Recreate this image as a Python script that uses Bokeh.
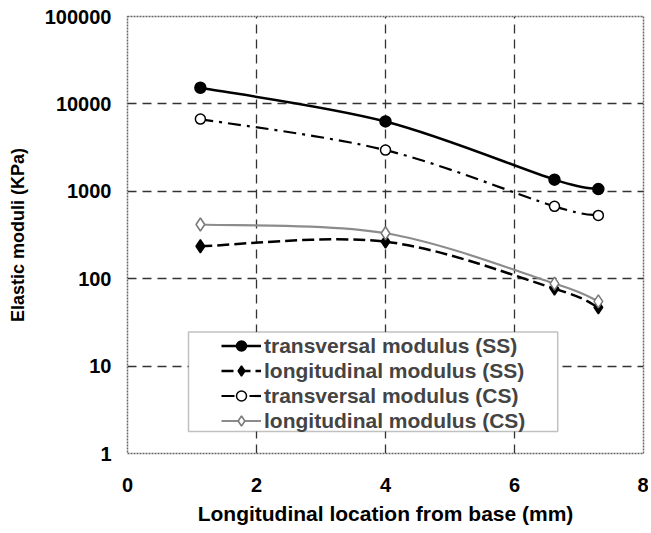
import numpy as np
from bokeh.plotting import figure
from bokeh.models import (Legend, LegendItem, FixedTicker, PrintfTickFormatter,
                          BoxAnnotation)
from bokeh.embed import file_html
from bokeh.resources import INLINE

# ---- data ----
x_loc = [1.13, 4.0, 6.62, 7.3]
trans_ss = [15300, 6300, 1360, 1060]
long_ss = [235, 265, 77, 47]
trans_cs = [6700, 2960, 673, 530]
long_cs = [417, 331, 88, 55]

series_names = ["transversal modulus (SS)", "longitudinal modulus (SS)",
                "transversal modulus (CS)", "longitudinal modulus (CS)"]
x_ticks = [0, 2, 4, 6, 8]
y_ticks = [1, 10, 100, 1000, 10000, 100000]

FONT = "Liberation Sans"


def smooth_segments(xs, ys):
    """Catmull-Rom style bezier control points (in x / log10 y space)."""
    px = np.asarray(xs, float)
    py = np.log10(np.asarray(ys, float))
    n = len(px)
    out = dict(x0=[], y0=[], x1=[], y1=[], cx0=[], cy0=[], cx1=[], cy1=[])
    for i in range(n - 1):
        im1 = max(i - 1, 0)
        ip2 = min(i + 2, n - 1)
        c1x = px[i] + (px[i + 1] - px[im1]) / 6.0
        c1y = py[i] + (py[i + 1] - py[im1]) / 6.0
        c2x = px[i + 1] - (px[ip2] - px[i]) / 6.0
        c2y = py[i + 1] - (py[ip2] - py[i]) / 6.0
        out["x0"].append(px[i]); out["y0"].append(10 ** py[i])
        out["x1"].append(px[i + 1]); out["y1"].append(10 ** py[i + 1])
        out["cx0"].append(c1x); out["cy0"].append(10 ** c1y)
        out["cx1"].append(c2x); out["cy1"].append(10 ** c2y)
    return out


p = figure(width=648, height=530, x_range=(0, 8), y_range=(1, 100000),
           y_axis_type="log", output_backend="svg", toolbar_location=None,
           min_border_left=127, min_border_right=5, min_border_top=16,
           min_border_bottom=77, background_fill_color="white",
           border_fill_color="white")

# axes
p.xaxis.ticker = FixedTicker(ticks=x_ticks)
p.yaxis.ticker = FixedTicker(ticks=y_ticks)
p.yaxis.formatter = PrintfTickFormatter(format="%d")
for ax in (p.xaxis[0], p.yaxis[0]):
    ax.axis_line_color = None
    ax.major_tick_line_color = None
    ax.minor_tick_line_color = None
    ax.major_tick_out = 0
    ax.major_tick_in = 0
    ax.minor_tick_out = 0
    ax.minor_tick_in = 0
    ax.major_label_text_font = FONT
    ax.major_label_text_font_style = "bold"
    ax.major_label_text_font_size = "20px"
    ax.major_label_text_color = "black"
    ax.axis_label_text_font = FONT
    ax.axis_label_text_font_style = "bold"
    ax.axis_label_text_color = "black"
p.xaxis.axis_label = "Longitudinal location from base (mm)"
p.yaxis.axis_label = "Elastic moduli (KPa)"
p.xaxis.axis_label_text_font_size = "21px"
p.yaxis.axis_label_text_font_size = "18px"
p.xaxis.major_label_standoff = 24
p.xaxis.axis_label_standoff = 7
p.yaxis.major_label_standoff = 16
p.yaxis.axis_label_standoff = 14

# grid
for g in (p.xgrid[0], p.ygrid[0]):
    g.grid_line_color = "#333333"
    g.grid_line_dash = "9 6"
    g.grid_line_width = 1.3
p.ygrid.minor_grid_line_color = None

p.outline_line_color = "#666666"
p.outline_line_dash = "2 1"
p.outline_line_width = 1.5

styles = [
    dict(y=trans_ss, color="black", width=2.5, dash="solid",
         marker="circle", size=11, fill="black", mline="black"),
    dict(y=long_ss, color="black", width=2.5, dash="12 5",
         marker="diamond", size=13, fill="black", mline="black"),
    dict(y=trans_cs, color="black", width=2.2, dash="13 6 3 6",
         marker="circle", size=10, fill="white", mline="black"),
    dict(y=long_cs, color="#8c8c8c", width=2.2, dash="solid",
         marker="diamond", size=13, fill="white", mline="#777777"),
]

items = []
for name, st in zip(series_names, styles):
    seg = smooth_segments(x_loc, st["y"])
    r_line = p.bezier(x0=seg["x0"], y0=seg["y0"], x1=seg["x1"], y1=seg["y1"],
                      cx0=seg["cx0"], cy0=seg["cy0"], cx1=seg["cx1"],
                      cy1=seg["cy1"], line_color=st["color"],
                      line_width=st["width"], line_dash=st["dash"])
    r_pts = p.scatter(x=x_loc, y=st["y"], marker=st["marker"], size=st["size"],
                      fill_color=st["fill"], line_color=st["mline"],
                      line_width=1.5)
    items.append(LegendItem(label=name, renderers=[r_line, r_pts]))

# legend frame
box = BoxAnnotation(left=0.946, right=6.67, bottom=1.79, top=24.6,
                    fill_color="white", fill_alpha=1.0,
                    line_color="#333333", line_width=1.5)
p.add_layout(box)

legend = Legend(items=items, location=(94, 20), padding=0, spacing=0,
                margin=0, glyph_width=40, glyph_height=25, label_height=25,
                label_standoff=3, label_text_font=FONT,
                label_text_font_style="bold", label_text_font_size="21px",
                border_line_alpha=0, background_fill_alpha=0)
p.add_layout(legend)

open("out.html", "w").write(file_html(p, INLINE))
